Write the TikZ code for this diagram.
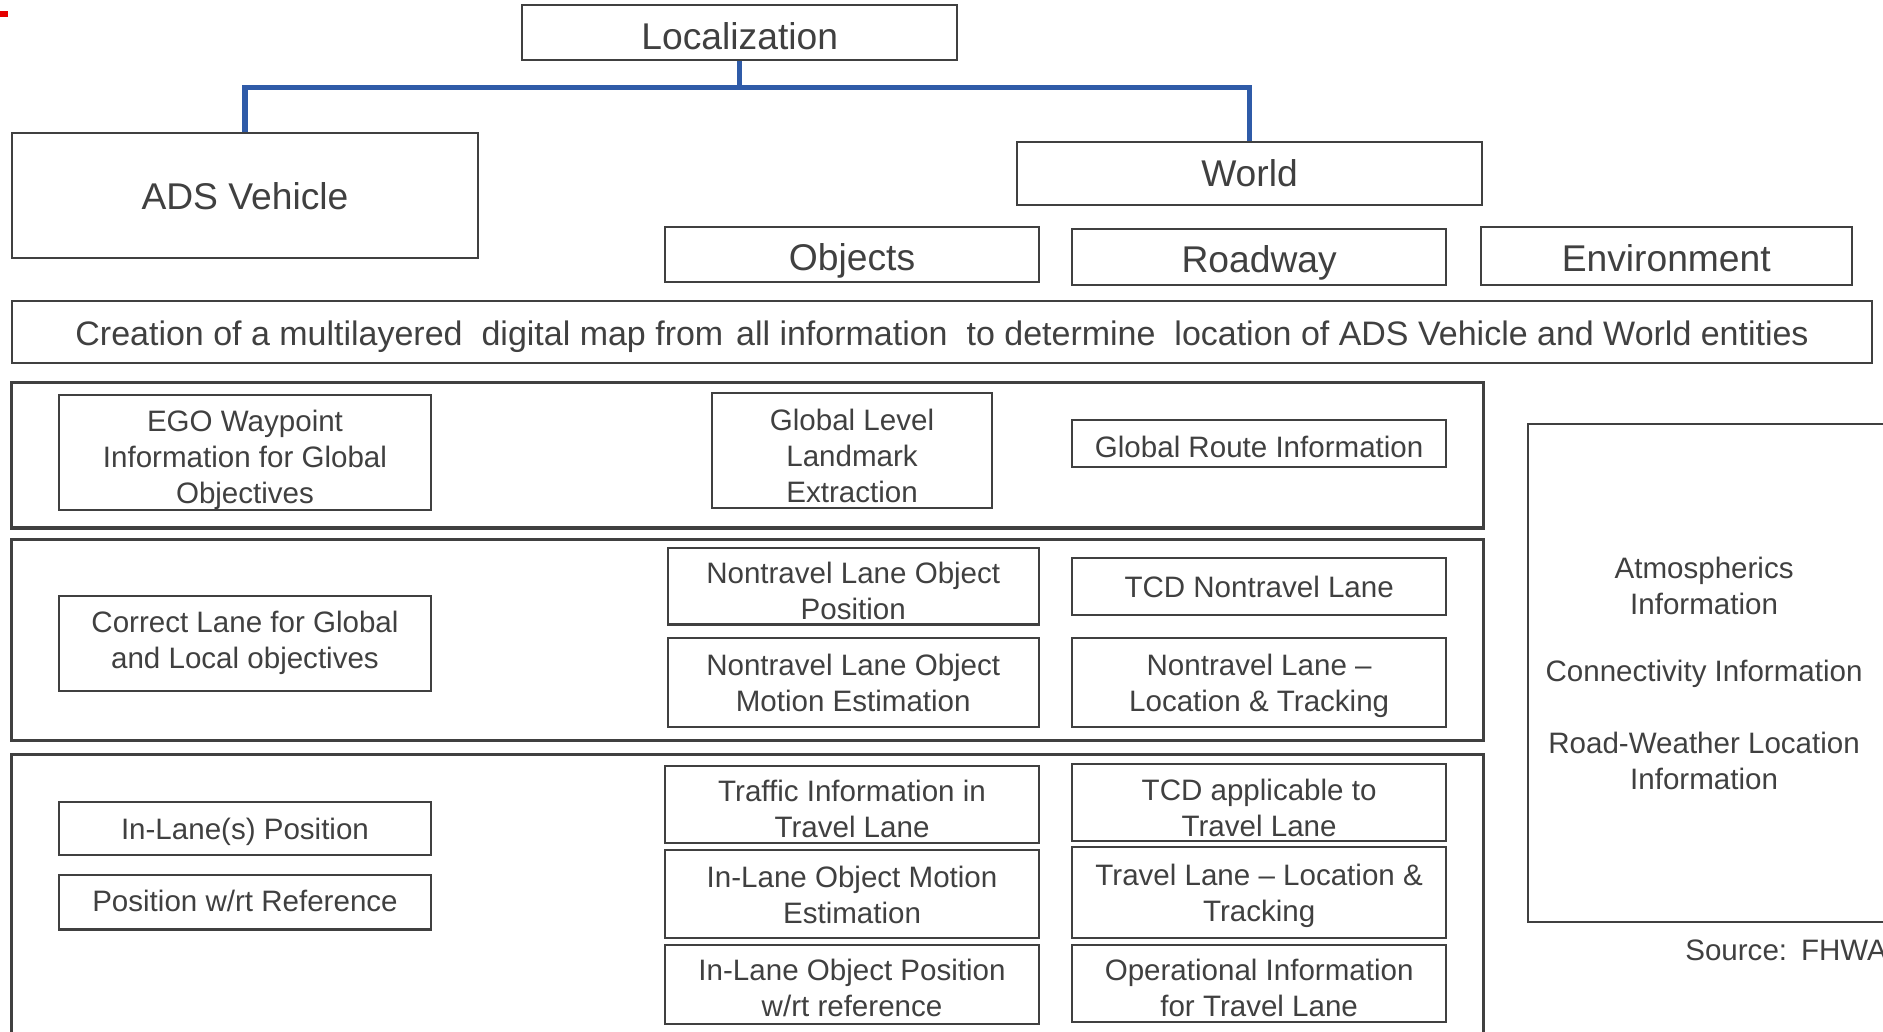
\documentclass[tikz,border=0pt]{standalone}
\usepackage{fontspec}
\setmainfont{Liberation Sans}
\definecolor{linegray}{HTML}{404040}
\definecolor{txtgray}{HTML}{404040}
\definecolor{busblue}{HTML}{2F5BA8}
\tikzset{
  frame/.style={draw=linegray, line width=0.85pt, inner sep=0pt},
  label/.style={inner sep=0pt, align=center, text=txtgray},
  hdr/.style={font=\fontsize{15.5}{18.6}\selectfont},
  body/.style={font=\fontsize{12.3}{15}\selectfont},
  wide/.style={font=\fontsize{14.15}{17}\selectfont},
  dn/.style={yshift={-(#1)*0.5pt}},
  conn/.style={draw=busblue, line width=2.1pt, line join=miter},
}
% \bx[text options]{name}{x1}{y1}{x2}{y2}{text}: a framed box given by its
% corners, with its text set as a separate node (name-t) at the box centre
\newcommand\bx[7][]{%
  \node[frame,minimum width={(#5-#3)*0.5pt},minimum height={(#6-#4)*0.5pt}]
    (#2) at ({(#3+#5)/2},{(#4+#6)/2}) {};
  \node[label,#1] (#2-t) at (#2.center) {#7};}
\begin{document}
\begin{tikzpicture}[x=0.5pt,y=-0.5pt]
\useasboundingbox (0,0) rectangle (1568,859);
\clip (0,0) rectangle (1568,859);

% small red marker
\fill[red!90!black] (0,9) rectangle (7,14);

% top level
\bx[hdr,dn=3]{loc}{435}{4}{797}{50}{Localization}
\bx[hdr]{ads}{10}{111}{398}{215}{ADS Vehicle}
\bx[hdr]{world}{847}{118}{1234}{171}{World}
\bx[hdr,dn=5]{obj}{554}{189}{865}{235}{Objects}
\bx[hdr,dn=5]{road}{893}{191}{1204}{237}{Roadway}
\bx[hdr,dn=2]{env}{1233}{189}{1542}{237}{Environment}

% blue tree connector
\coordinate (bus) at (616,73);
\draw[conn] (loc.south) -- (bus);
\draw[conn] (ads.north) |- (bus) -| (world.north);

% map creation banner
\bx[wide,dn=4]{map}{10}{251}{1559}{302}{Creation of a multilayered\hspace{0.28em} digital map from\hspace{0.1em} all information\hspace{0.28em} to determine\hspace{0.28em} location of ADS Vehicle and World entities}

% layer frames
\bx[]{layerA}{10}{319}{1235}{439}{}
\bx[]{layerB}{10}{450}{1235}{616}{}
\bx[]{layerC}{10}{629}{1235}{900}{}
\path[frame, line width=1.1pt] (layerA.south west) rectangle (layerA.north east)
  (layerB.south west) rectangle (layerB.north east)
  (layerC.south west) rectangle (layerC.north east);

% global layer
\bx[body,dn=6]{ego}{49}{329}{359}{425}{EGO Waypoint\\Information for Global\\Objectives}
\bx[body,dn=5]{landmark}{593}{327}{826}{423}{Global Level\\Landmark\\Extraction}
\bx[body,dn=3]{route}{893}{350}{1204}{389}{Global Route Information}

% nontravel lane layer
\bx[body]{correct}{49}{496}{359}{575}{Correct Lane for Global\\and Local objectives}
\bx[body,dn=4]{ntpos}{556}{456}{865}{520}{Nontravel Lane Object\\Position}
\bx[body,dn=1]{ntmot}{556}{531}{865}{605}{Nontravel Lane Object\\Motion Estimation}
\bx[body]{tcdnt}{893}{465}{1204}{512}{TCD Nontravel Lane}
\bx[body,dn=3]{ntloc}{893}{531}{1204}{605}{Nontravel Lane --\\Location \& Tracking}

% travel lane layer
\bx[body,dn=3]{inpos}{49}{668}{359}{712}{In-Lane(s) Position}
\bx[body,dn=-1]{posref}{49}{729}{359}{774}{Position w/rt Reference}
\bx[body,dn=4]{traffic}{554}{638}{865}{702}{Traffic Information in\\Travel Lane}
\bx[body,dn=1]{inmot}{554}{708}{865}{781}{In-Lane Object Motion\\Estimation}
\bx[body,dn=3]{inobj}{554}{787}{865}{853}{In-Lane Object Position\\w/rt reference}
\bx[body,dn=5]{tcdtl}{893}{636}{1204}{700}{TCD applicable to\\Travel Lane}
\bx[body,dn=3]{tlloc}{893}{705}{1204}{781}{Travel Lane -- Location \&\\Tracking}
\bx[body,dn=4]{opinfo}{893}{787}{1204}{851}{Operational Information\\for Travel Lane}

% environment information panel
\bx[]{envpanel}{1272}{353}{1600}{768}{}
\node[body, label] (atmo) at (1419,488) {Atmospherics\\Information};
\node[body, label] (conn) at (1419,561) {Connectivity Information};
\node[body, label] (rwl) at (1419,634) {Road-Weather Location\\Information};

% source note
\node[body, label, anchor=west] (src) at (1403,791) {Source:\hspace{0.1em} FHWA};
\end{tikzpicture}
\end{document}
